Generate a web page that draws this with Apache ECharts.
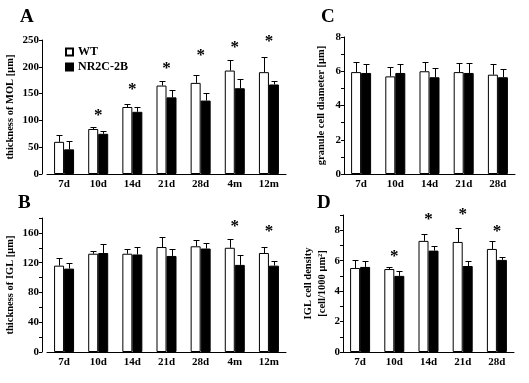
<!DOCTYPE html>
<html>
<head>
<meta charset="utf-8">
<script src="https://cdn.jsdelivr.net/npm/echarts@6/dist/echarts.min.js"></script>
<style>html,body{margin:0;padding:0;background:#fff;}#c{width:529px;height:383px;}</style>
</head>
<body>
<div id="c"></div>
<script>
// ---- data ----
const catsLong = ['7d','10d','14d','21d','28d','4m','12m'];
const catsShort = ['7d','10d','14d','21d','28d'];

// Panel A: thickness of MOL [μm]
const molWT = [60, 84, 125, 165, 170, 193, 190];
const molWTErr = [13, 4, 6, 9, 15, 19, 29];
const molKO = [46, 75, 116, 143, 137, 160, 167];
const molKOErr = [15, 5, 9, 14, 14, 18, 6];
const molStars = [null, 115, 163, 203, 227, 242, 253];

// Panel B: thickness of IGL [μm]
const iglWT = [116, 132, 132, 141, 142, 140, 133];
const iglWTErr = [10, 4, 6, 14, 8, 12, 8];
const iglKO = [112, 133, 131, 129, 139, 117, 116];
const iglKOErr = [8, 12, 10, 9, 8, 13, 6];
const iglStars = [null, null, null, null, null, 173, 166];

// Panel C: granule cell diameter [μm]
const diaWT = [5.95, 5.7, 6.0, 5.95, 5.8];
const diaWTErr = [0.6, 0.55, 0.55, 0.55, 0.6];
const diaKO = [5.9, 5.9, 5.65, 5.9, 5.65];
const diaKOErr = [0.55, 0.5, 0.55, 0.6, 0.5];

// Panel D: IGL cell density [cell/1000 μm²]
const denWT = [5.52, 5.45, 7.3, 7.23, 6.77];
const denWTErr = [0.53, 0.14, 0.48, 0.92, 0.53];
const denKO = [5.59, 5.0, 6.66, 5.65, 6.05];
const denKOErr = [0.39, 0.3, 0.31, 0.33, 0.2];
const denStars = [null, 6.46, 8.88, 9.2, 8.1];

// ---- chart ----
const FONT = "'Liberation Serif','Times New Roman',serif";
const BW = 10;

function errSeries(idx, means, errs, offset) {
  return {
    type: 'custom', xAxisIndex: idx, yAxisIndex: idx, z: 5,
    data: means.map((m, i) => [i, m, errs[i]]),
    renderItem: function (params, api) {
      const i = api.value(0), m = api.value(1), e = api.value(2);
      const p0 = api.coord([i, m]);
      const p1 = api.coord([i, m + e]);
      const x = Math.round(p0[0] + offset) + 0.5;
      const yt = Math.round(p1[1]) + 0.5;
      return { type: 'group', children: [
        { type: 'line', shape: { x1: x, y1: p0[1], x2: x, y2: yt }, style: { stroke: '#000', lineWidth: 1 } },
        { type: 'line', shape: { x1: x - 3, y1: yt, x2: x + 3, y2: yt }, style: { stroke: '#000', lineWidth: 1 } }
      ]};
    }
  };
}
function starSeries(idx, stars) {
  return {
    type: 'custom', xAxisIndex: idx, yAxisIndex: idx, z: 6, clip: false,
    data: stars.map((s, i) => [i, s]).filter(d => d[1] != null),
    renderItem: function (params, api) {
      const p = api.coord([api.value(0), api.value(1)]);
      return { type: 'text', x: p[0], y: p[1] + 3,
        style: { text: '*', font: 'bold 17px ' + FONT, fill: '#000', align: 'center', verticalAlign: 'middle' } };
    }
  };
}
function barPair(idx, wt, ko) {
  return [
    { name: 'WT', type: 'bar', xAxisIndex: idx, yAxisIndex: idx, data: wt, barWidth: BW, barGap: '0%',
      itemStyle: { color: '#fff', borderColor: '#000', borderWidth: 1 } },
    { name: 'NR2C-2B', type: 'bar', xAxisIndex: idx, yAxisIndex: idx, data: ko, barWidth: BW, barGap: '0%',
      itemStyle: { color: '#000', borderColor: '#000', borderWidth: 1 } }
  ];
}
function xAx(idx, cats) {
  return { type: 'category', gridIndex: idx, data: cats,
    axisTick: { show: false },
    axisLine: { lineStyle: { color: '#000', width: 1 } },
    axisLabel: { color: '#000', fontFamily: FONT, fontWeight: 'bold', fontSize: 11, margin: 5 } };
}
function yAx(idx, max, interval, labelEvery, name, nameGap, offset) {
  return { type: 'value', gridIndex: idx, min: 0, max: max, interval: interval, offset: offset || 0,
    splitLine: { show: false },
    axisLine: { show: true, lineStyle: { color: '#000', width: 1 } },
    axisTick: { show: true, length: 3, lineStyle: { color: '#000' } },
    axisLabel: { color: '#000', fontFamily: FONT, fontWeight: 'bold', fontSize: 11, margin: 3,
      formatter: v => (Math.abs(v / labelEvery - Math.round(v / labelEvery)) < 1e-6 ? String(v) : '') },
    name: name, nameLocation: 'middle', nameRotate: 90, nameGap: nameGap,
    nameTextStyle: { color: '#000', fontFamily: FONT, fontWeight: 'bold', fontSize: 10.5, lineHeight: 14 } };
}

const chart = echarts.init(document.getElementById('c'), null, { renderer: 'canvas' });
chart.setOption({
  backgroundColor: '#fff',
  animation: false,
  grid: [
    { left: 47, top: 40, width: 239, height: 134 },
    { left: 47, top: 218, width: 239, height: 134 },
    { left: 344, top: 37, width: 171, height: 137 },
    { left: 343, top: 215, width: 171, height: 137 }
  ],
  legend: {
    data: ['WT', 'NR2C-2B'], orient: 'vertical', left: 60, top: 41, itemWidth: 7, itemHeight: 7, itemGap: 3,
    icon: 'rect',
    textStyle: { color: '#000', fontFamily: FONT, fontWeight: 'bold', fontSize: 12 }
  },
  xAxis: [xAx(0, catsLong), xAx(1, catsLong), xAx(2, catsShort), xAx(3, catsShort)],
  yAxis: [
    yAx(0, 250, 50, 50, 'thickness of MOL [μm]', 25, 5),
    yAx(1, 180, 20, 40, 'thickness of IGL [μm]', 25, 5),
    yAx(2, 8, 1, 2, 'granule cell diameter [μm]', 16),
    yAx(3, 9, 1, 2, 'IGL cell density\n[cell/1000 μm²]', 14)
  ],
  series: [
    ...barPair(0, molWT, molKO), errSeries(0, molWT, molWTErr, -BW / 2), errSeries(0, molKO, molKOErr, BW / 2), starSeries(0, molStars),
    ...barPair(1, iglWT, iglKO), errSeries(1, iglWT, iglWTErr, -BW / 2), errSeries(1, iglKO, iglKOErr, BW / 2), starSeries(1, iglStars),
    ...barPair(2, diaWT, diaKO), errSeries(2, diaWT, diaWTErr, -BW / 2), errSeries(2, diaKO, diaKOErr, BW / 2),
    ...barPair(3, denWT, denKO), errSeries(3, denWT, denWTErr, -BW / 2), errSeries(3, denKO, denKOErr, BW / 2), starSeries(3, denStars)
  ],
  graphic: [
    { type: 'text', left: 20, top: 8, style: { text: 'A', font: 'bold 19px ' + FONT, fill: '#000' } },
    { type: 'text', left: 18, top: 194, style: { text: 'B', font: 'bold 19px ' + FONT, fill: '#000' } },
    { type: 'text', left: 321, top: 8, style: { text: 'C', font: 'bold 19px ' + FONT, fill: '#000' } },
    { type: 'text', left: 317, top: 194, style: { text: 'D', font: 'bold 19px ' + FONT, fill: '#000' } }
  ]
});
</script>
</body>
</html>
